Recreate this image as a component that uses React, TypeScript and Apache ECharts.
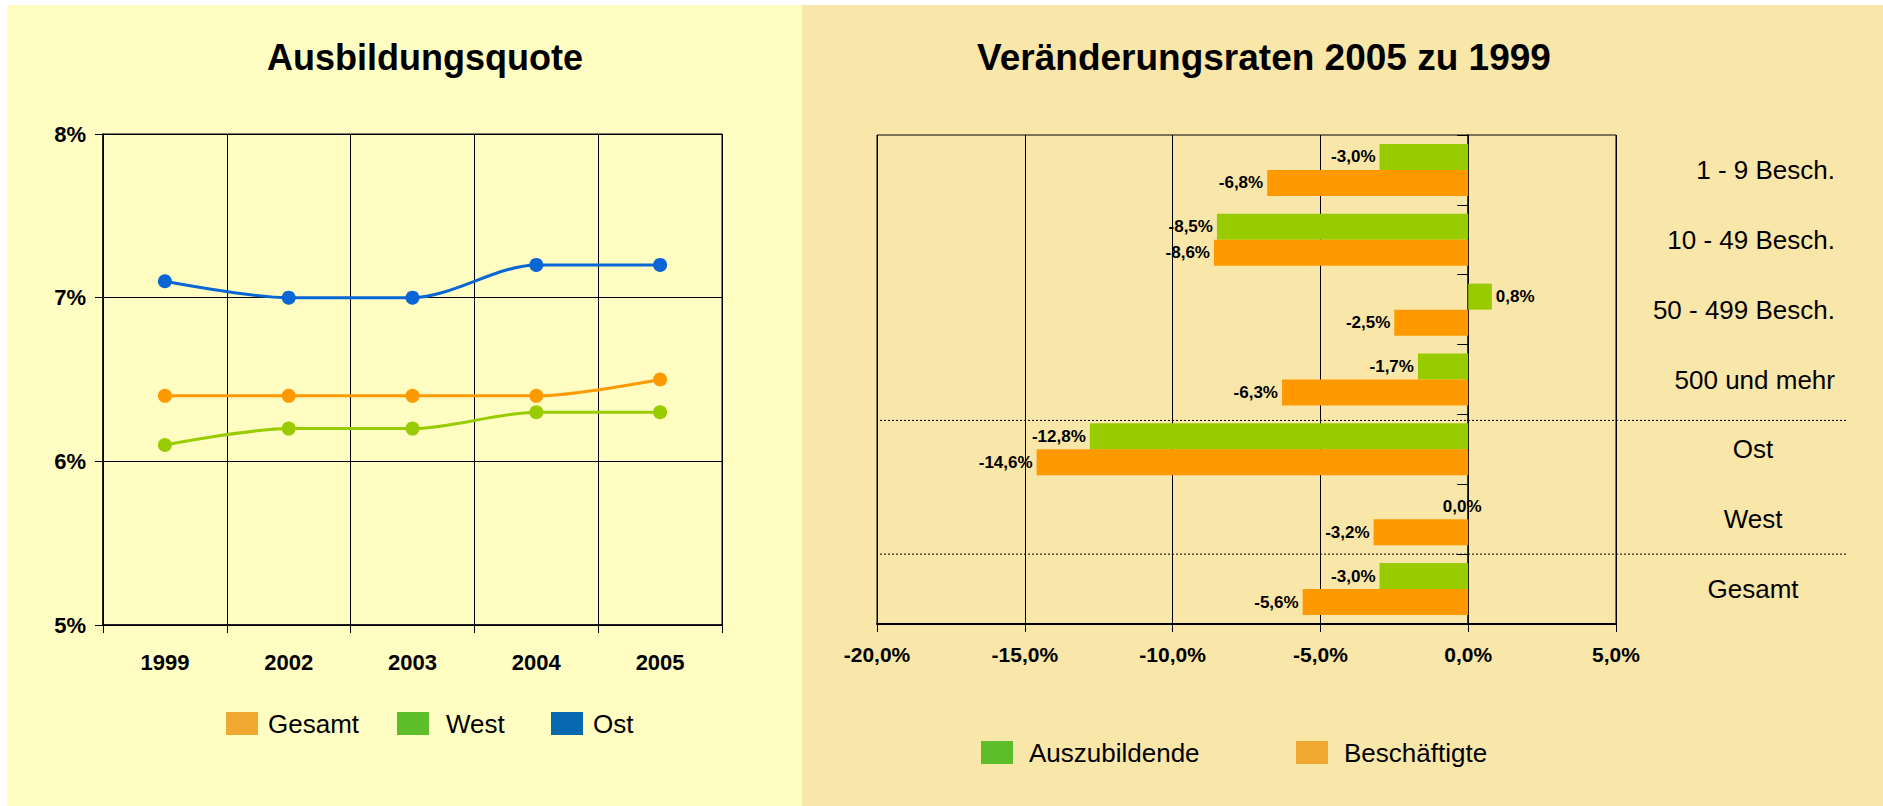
import React, { useEffect, useRef } from 'react';
import * as echarts from 'echarts';

// ---- Left chart data (Ausbildungsquote, in %) ----
const years = ['1999', '2002', '2003', '2004', '2005'];
const gesamt = [6.4, 6.4, 6.4, 6.4, 6.5];
const west = [6.1, 6.2, 6.2, 6.3, 6.3];
const ost = [7.1, 7.0, 7.0, 7.2, 7.2];
const leftMin = 5;
const leftMax = 8;
const leftStep = 1;

// ---- Right chart data (Veränderungsraten 2005 zu 1999, in %) ----
const categories = ['1 - 9 Besch.', '10 - 49 Besch.', '50 - 499 Besch.', '500 und mehr', 'Ost', 'West', 'Gesamt'];
const auszubildende = [-3.0, -8.5, 0.8, -1.7, -12.8, 0.0, -3.0];
const beschaeftigte = [-6.8, -8.6, -2.5, -6.3, -14.6, -3.2, -5.6];
const rightMin = -20;
const rightMax = 5;
const rightStep = 5;
const sizeCount = 4; // first four categories are company sizes

const FONT = '"Liberation Sans", Arial, Helvetica, sans-serif';
const fmtPct = (v: number) => v.toFixed(1).replace('.', ',') + '%';

const barItems = (vals: number[]) =>
  vals.map((v) => ({
    value: v,
    label: {
      position: v > 0 ? 'right' : v < 0 ? 'left' : 'inside',
      offset: v === 0 ? [-6, 0] : [0, 0],
    },
  }));

export default function App() {
  const ref = useRef<HTMLDivElement>(null);

  useEffect(() => {
    if (!ref.current) return;
    const chart = echarts.init(ref.current, undefined, { renderer: 'svg' });

    const bgRects = [
      { type: 'rect', z: -10, shape: { x: 7, y: 5, width: 795, height: 801 }, style: { fill: '#FFFDC1' }, silent: true },
      { type: 'rect', z: -10, shape: { x: 802, y: 5, width: 1081, height: 801 }, style: { fill: '#F9E6A9' }, silent: true },
      {
        type: 'text', z: 10, x: 425, y: 57,
        style: { text: 'Ausbildungsquote', fill: '#000', fontSize: 36, fontWeight: 'bold', fontFamily: FONT, align: 'center', verticalAlign: 'middle' },
      },
      {
        type: 'text', z: 10, x: 1264, y: 57,
        style: { text: 'Veränderungsraten 2005 zu 1999', fill: '#000', fontSize: 37, fontWeight: 'bold', fontFamily: FONT, align: 'center', verticalAlign: 'middle' },
      },
    ];

    const barLabel = {
      show: true,
      distance: 4,
      fontSize: 17,
      fontWeight: 'bold',
      color: '#000',
      fontFamily: FONT,
      formatter: (p: any) => fmtPct(p.value),
    };

    const legendText = (pad: number) => ({ fontSize: 26, color: '#000', fontFamily: FONT, padding: [0, 0, 0, pad] });

    const option: any = {
      animation: false,
      textStyle: { fontFamily: FONT },
      graphic: bgRects,
      grid: [
        { left: 103, top: 134, width: 619, height: 491, show: true, borderColor: '#000', borderWidth: 1, backgroundColor: 'transparent' },
        { left: 877, top: 135, width: 739, height: 489, show: true, borderColor: '#000', borderWidth: 1, backgroundColor: 'transparent' },
      ],
      legend: [
        { left: 226, top: 710.5, padding: 0, itemWidth: 32, itemHeight: 23, icon: 'rect', selectedMode: false,
          data: [{ name: 'Gesamt', itemStyle: { color: '#F0A830', borderWidth: 0 } }], textStyle: legendText(5) },
        { left: 397, top: 710.5, padding: 0, itemWidth: 32, itemHeight: 23, icon: 'rect', selectedMode: false,
          data: [{ name: 'West', itemStyle: { color: '#5DBE2B', borderWidth: 0 } }], textStyle: legendText(12) },
        { left: 551, top: 710.5, padding: 0, itemWidth: 32, itemHeight: 23, icon: 'rect', selectedMode: false,
          data: [{ name: 'Ost', itemStyle: { color: '#0868B0', borderWidth: 0 } }], textStyle: legendText(5) },
        { left: 981, top: 739.5, padding: 0, itemWidth: 32, itemHeight: 23, icon: 'rect', selectedMode: false,
          data: [{ name: 'Auszubildende', itemStyle: { color: '#5DBE2B', borderWidth: 0 } }], textStyle: legendText(11) },
        { left: 1296, top: 739.5, padding: 0, itemWidth: 32, itemHeight: 23, icon: 'rect', selectedMode: false,
          data: [{ name: 'Beschäftigte', itemStyle: { color: '#F0A830', borderWidth: 0 } }], textStyle: legendText(11) },
      ],
      xAxis: [
        {
          type: 'category', gridIndex: 0, data: years, boundaryGap: true,
          axisLine: { show: true, lineStyle: { color: '#000', width: 1.5 } },
          axisTick: { show: true, length: 8, lineStyle: { color: '#000' } },
          axisLabel: { fontSize: 22, fontWeight: 'bold', color: '#000', margin: 26, fontFamily: FONT },
          splitLine: { show: true, lineStyle: { color: '#000', width: 1 } },
        },
        {
          type: 'value', gridIndex: 1, min: rightMin, max: rightMax, interval: rightStep,
          axisLine: { show: true, onZero: false, lineStyle: { color: '#000', width: 2 } },
          axisTick: { show: true, length: 8, lineStyle: { color: '#000' } },
          axisLabel: { fontSize: 21, fontWeight: 'bold', color: '#000', margin: 20, fontFamily: FONT, formatter: (v: number) => fmtPct(v) },
          splitLine: { show: true, lineStyle: { color: '#000', width: 1 } },
        },
      ],
      yAxis: [
        {
          type: 'value', gridIndex: 0, min: leftMin, max: leftMax, interval: leftStep,
          axisLine: { show: true, lineStyle: { color: '#000', width: 1.5 } },
          axisTick: { show: true, length: 8, lineStyle: { color: '#000' } },
          axisLabel: { fontSize: 22, fontWeight: 'bold', color: '#000', margin: 17, fontFamily: FONT, formatter: '{value}%' },
          splitLine: { show: true, lineStyle: { color: '#000', width: 1 } },
        },
        {
          type: 'category', gridIndex: 1, data: categories, inverse: true, position: 'left',
          axisLine: { show: true, onZero: true, lineStyle: { color: '#000', width: 1.5 } },
          axisTick: { show: true, length: 11, lineStyle: { color: '#000' } },
          axisLabel: { show: false },
          splitLine: { show: false },
        },
        {
          type: 'category', gridIndex: 1, data: categories, inverse: true, position: 'right',
          axisLine: { show: false }, axisTick: { show: false }, splitLine: { show: false },
          axisLabel: {
            show: true, fontSize: 26, color: '#000', fontFamily: FONT, align: 'right', margin: 219,
            formatter: (v: string, i: number) => (i < sizeCount ? v : ''),
          },
        },
        {
          type: 'category', gridIndex: 1, data: categories, inverse: true, position: 'right',
          axisLine: { show: false }, axisTick: { show: false }, splitLine: { show: false },
          axisLabel: {
            show: true, fontSize: 26, color: '#000', fontFamily: FONT, align: 'center', margin: 137,
            formatter: (v: string, i: number) => (i >= sizeCount ? v : ''),
          },
        },
      ],
      series: [
        {
          type: 'line', name: 'Gesamt', xAxisIndex: 0, yAxisIndex: 0, data: gesamt, smooth: 0.3,
          symbol: 'circle', symbolSize: 14, lineStyle: { color: '#FF9900', width: 3 }, itemStyle: { color: '#FF9900' },
        },
        {
          type: 'line', name: 'West', xAxisIndex: 0, yAxisIndex: 0, data: west, smooth: 0.3,
          symbol: 'circle', symbolSize: 14, lineStyle: { color: '#99CC00', width: 3 }, itemStyle: { color: '#99CC00' },
        },
        {
          type: 'line', name: 'Ost', xAxisIndex: 0, yAxisIndex: 0, data: ost, smooth: 0.3,
          symbol: 'circle', symbolSize: 14, lineStyle: { color: '#0A66D4', width: 3 }, itemStyle: { color: '#0A66D4' },
        },
        {
          type: 'bar', name: 'Auszubildende', xAxisIndex: 1, yAxisIndex: 1, data: barItems(auszubildende),
          barWidth: 26, barGap: '0%', itemStyle: { color: '#99CC00' }, label: barLabel,
        },
        {
          type: 'bar', name: 'Beschäftigte', xAxisIndex: 1, yAxisIndex: 1, data: barItems(beschaeftigte),
          barWidth: 26, barGap: '0%', itemStyle: { color: '#FF9900' }, label: barLabel,
        },
      ],
    };

    chart.setOption(option);

    // dotted separators between category groups, located through the category axis
    const mid = (a: string, b: string) =>
      ((chart.convertToPixel({ yAxisIndex: 1 } as any, a) as any) + (chart.convertToPixel({ yAxisIndex: 1 } as any, b) as any)) / 2;
    const sepY = [mid(categories[3], categories[4]) + 6, mid(categories[5], categories[6])];
    const sepLines = sepY.map((y) => ({
      type: 'line', z: 10, silent: true,
      shape: { x1: 880, y1: y, x2: 1848, y2: y },
      style: { stroke: '#000', lineWidth: 1, lineDash: [2, 2] },
    }));
    chart.setOption({ graphic: [...bgRects, ...sepLines] });

    return () => chart.dispose();
  }, []);

  return (
    <div
      ref={ref}
      style={{ position: 'absolute', left: 0, top: 0, width: '1883px', height: '806px', background: '#fff' }}
    />
  );
}
